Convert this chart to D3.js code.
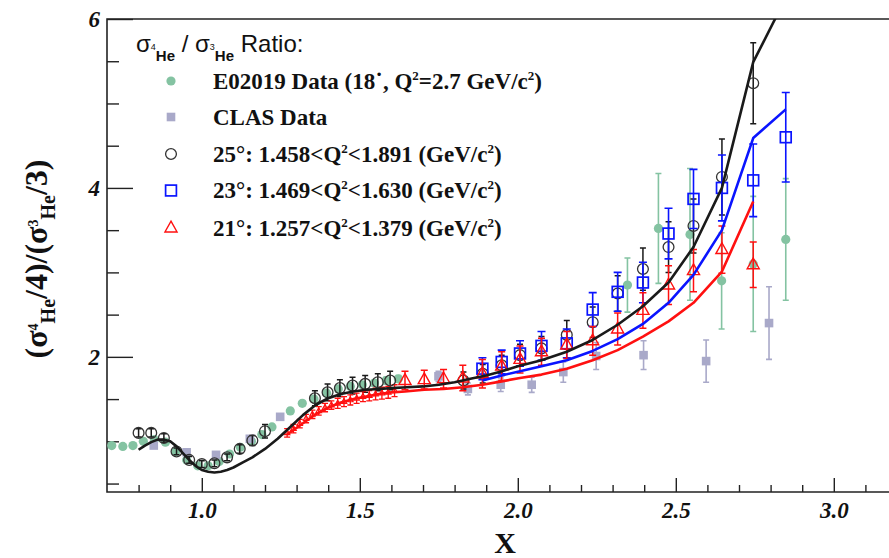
<!DOCTYPE html>
<html><head><meta charset="utf-8">
<script src="https://cdn.jsdelivr.net/npm/d3@7"></script>
<style>html,body{margin:0;padding:0;background:#fff;} svg{display:block;}</style>
</head><body>
<svg id="chart" width="889" height="558"></svg>
<script>
// ---- axis ticks ----
const xMajor = [1.0, 1.5, 2.0, 2.5, 3.0];
const xMinor = [0.8, 0.9, 1.1, 1.2, 1.3, 1.4, 1.6, 1.7, 1.8, 1.9, 2.1, 2.2, 2.3, 2.4, 2.6, 2.7, 2.8, 2.9, 3.1, 3.2];
const yMajor = [2, 4, 6];
const yMinor = [0.5, 1, 1.5, 2.5, 3, 3.5, 4.5, 5, 5.5];

// ---- E02019 data (18 deg) ----
const e02019X = [0.715,0.750,0.782,0.815,0.850,0.885,0.918,0.952,0.987,1.020,1.055,1.088,1.122,1.157,1.190,1.222,1.280,1.318,1.355,1.395,1.432,1.470,1.508,1.546,1.584,1.622,2.347,2.445,2.545,2.645,2.745,2.848];
const e02019Y = [0.95,0.94,0.95,1.00,1.02,0.99,0.88,0.78,0.71,0.71,0.76,0.85,0.93,1.00,1.08,1.17,1.36,1.45,1.50,1.57,1.62,1.65,1.67,1.69,1.72,1.74,2.85,3.52,3.45,2.90,3.10,3.39];
const e02019Err = [0.02,0.02,0.02,0.02,0.02,0.02,0.02,0.02,0.02,0.02,0.02,0.02,0.02,0.02,0.03,0.03,0.03,0.03,0.03,0.03,0.03,0.03,0.03,0.03,0.04,0.04,0.32,0.65,0.78,0.57,0.80,0.72];

// ---- CLAS data ----
const clasX = [0.848,0.952,1.045,1.152,1.248,1.749,1.842,1.946,2.044,2.144,2.248,2.398,2.596,2.795];
const clasY = [0.95,0.87,0.84,1.03,1.29,1.77,1.62,1.67,1.67,1.82,2.01,2.02,1.95,2.40];
const clasErr = [0.02,0.02,0.02,0.03,0.03,0.06,0.07,0.08,0.09,0.12,0.16,0.17,0.25,0.43];

// ---- 25 deg ----
const deg25X = [0.800,0.840,0.880,0.920,0.960,1.000,1.040,1.080,1.120,1.160,1.200,1.358,1.398,1.437,1.477,1.517,1.557,1.596,1.828,1.889,1.949,2.007,2.075,2.155,2.237,2.316,2.396,2.477,2.556,2.646,2.745];
const deg25Y = [1.10,1.10,1.04,0.88,0.78,0.73,0.74,0.81,0.91,1.01,1.12,1.51,1.58,1.63,1.66,1.68,1.70,1.72,1.72,1.80,1.90,2.02,2.10,2.26,2.41,2.75,3.04,3.30,3.55,4.13,5.24];
const deg25Err = [0.05,0.05,0.05,0.04,0.04,0.04,0.04,0.04,0.05,0.06,0.08,0.09,0.10,0.10,0.10,0.10,0.10,0.11,0.10,0.11,0.12,0.13,0.14,0.17,0.18,0.21,0.25,0.30,0.32,0.45,0.48];

// ---- 23 deg ----
const deg23X = [1.888,1.949,2.007,2.075,2.155,2.237,2.316,2.396,2.477,2.556,2.646,2.745,2.848];
const deg23Y = [1.86,1.94,2.04,2.13,2.16,2.56,2.77,2.88,3.46,3.87,4.00,4.09,4.60];
const deg23Err = [0.13,0.14,0.15,0.17,0.17,0.20,0.23,0.24,0.30,0.35,0.39,0.43,0.53];

// ---- 21 deg (coarse bins) ----
const deg21X = [1.643,1.704,1.765,1.826,1.888,1.949,2.007,2.075,2.155,2.237,2.316,2.396,2.477,2.556,2.646,2.745];
const deg21Y = [1.72,1.73,1.74,1.75,1.80,1.89,1.97,2.06,2.14,2.19,2.33,2.55,2.85,3.02,3.27,3.09];
const deg21Err = [0.11,0.11,0.11,0.15,0.17,0.17,0.16,0.16,0.16,0.17,0.19,0.21,0.23,0.25,0.28,0.27];

// ---- 21 deg (fine bins) ----
const deg21FineX = [1.27,1.29,1.31,1.33,1.35,1.37,1.39,1.41,1.43,1.45,1.47,1.49,1.51,1.53,1.55,1.57,1.59,1.61];
const deg21FineY = [1.10,1.15,1.21,1.27,1.32,1.36,1.40,1.43,1.45,1.47,1.49,1.51,1.53,1.54,1.56,1.57,1.58,1.60];
const deg21FineErr = [0.05,0.05,0.05,0.05,0.05,0.05,0.05,0.05,0.06,0.06,0.06,0.06,0.06,0.06,0.07,0.07,0.07,0.07];

// ---- model curves ----
const model25X = [0.80,0.82,0.84,0.86,0.88,0.90,0.92,0.94,0.96,0.98,1.00,1.02,1.04,1.06,1.08,1.10,1.13,1.16,1.20,1.24,1.28,1.32,1.36,1.40,1.44,1.48,1.52,1.56,1.60,1.65,1.70,1.75,1.80,1.85,1.90,1.95,2.00,2.075,2.155,2.237,2.316,2.396,2.477,2.556,2.646,2.745,2.848];
const model25Y = [0.90,0.95,0.99,1.02,1.02,1.00,0.94,0.86,0.78,0.71,0.66,0.64,0.63,0.64,0.66,0.69,0.75,0.81,0.91,1.03,1.17,1.31,1.43,1.51,1.56,1.59,1.61,1.62,1.63,1.64,1.65,1.67,1.70,1.74,1.78,1.83,1.89,1.96,2.06,2.20,2.38,2.60,2.88,3.30,4.00,5.49,6.25];
const model23X = [1.888,1.949,2.007,2.075,2.155,2.237,2.316,2.396,2.477,2.556,2.646,2.745,2.848];
const model23Y = [1.72,1.78,1.83,1.89,1.96,2.07,2.21,2.39,2.64,2.97,3.50,4.59,4.93];
const model21X = [1.27,1.30,1.33,1.36,1.40,1.44,1.48,1.52,1.56,1.60,1.643,1.704,1.765,1.826,1.888,1.949,2.007,2.075,2.155,2.237,2.316,2.396,2.477,2.556,2.646,2.745];
const model21Y = [1.08,1.16,1.24,1.32,1.40,1.46,1.50,1.53,1.56,1.58,1.59,1.61,1.62,1.64,1.67,1.71,1.75,1.79,1.86,1.96,2.08,2.24,2.42,2.64,3.01,3.84];

// ---- colours / fonts ----
const cGreen = "#84c3a2", cGrey = "#a9a9c9", cBlack = "#1a1a1a", cBlue = "#0a14ff", cRed = "#ff1010";
const serif = "'Liberation Serif','Times New Roman',serif";
const sans = "'Liberation Sans',Arial,sans-serif";

const svg = d3.select("#chart");
const L = 107, T = 19, B = 492, R = 889;
const x = d3.scaleLinear().domain([0.7, 3.2]).range([L, 897]);
const y = d3.scaleLinear().domain([0.4, 6]).range([B, T]);

svg.append("defs").append("clipPath").attr("id", "plotClip")
  .append("rect").attr("x", L).attr("y", T).attr("width", R - L).attr("height", B - T);

const zip = (xs, ys, es) => xs.map((v, i) => ({x: v, y: ys[i], e: es ? es[i] : 0}));

// ---- axes ----
function styleAxis(g) {
  g.select(".domain").remove();
  g.selectAll(".tick line").attr("stroke", "#222").attr("stroke-width", 1.4);
  g.selectAll(".tick text").attr("fill", "#111").style("font-family", serif)
    .style("font-weight", "bold").style("font-style", "italic").style("font-size", "23px");
}
svg.append("g").attr("transform", `translate(0,${B})`)
  .call(d3.axisBottom(x).tickValues(xMajor).tickSizeInner(-14).tickSizeOuter(0).tickPadding(10).tickFormat(d3.format(".1f")))
  .call(styleAxis);
svg.append("g").attr("transform", `translate(0,${B})`)
  .call(d3.axisBottom(x).tickValues(xMinor).tickSizeInner(-7).tickSizeOuter(0).tickFormat(""))
  .call(styleAxis);
svg.append("g").attr("transform", `translate(${L},0)`)
  .call(d3.axisLeft(y).tickValues(yMajor).tickSizeInner(-26).tickSizeOuter(0).tickPadding(7).tickFormat(d3.format("d")))
  .call(styleAxis);
svg.append("g").attr("transform", `translate(${L},0)`)
  .call(d3.axisLeft(y).tickValues(yMinor).tickSizeInner(-12).tickSizeOuter(0).tickFormat(""))
  .call(styleAxis);

// frame
svg.append("path").attr("d", `M${R},${T}H${L}V${B}H${R}`)
  .attr("fill", "none").attr("stroke", "#222").attr("stroke-width", 1.6);

// ---- marks ----
const plot = svg.append("g").attr("clip-path", "url(#plotClip)");

function errBars(data, color, cap, width) {
  const g = plot.append("g").attr("stroke", color).attr("stroke-width", width).attr("fill", "none");
  g.selectAll("path").data(data.filter(d => d.e > 0)).join("path")
    .attr("d", d => {
      const px = x(d.x), y0 = y(d.y - d.e), y1 = y(d.y + d.e);
      return `M${px},${y0}V${y1}M${px - cap},${y1}H${px + cap}M${px - cap},${y0}H${px + cap}`;
    });
}
const triPath = s => `M0,${-s * 0.62}L${s * 0.55},${s * 0.36}L${-s * 0.55},${s * 0.36}Z`;

function drawMarker(g, kind, px, py) {
  if (kind === "green") g.append("circle").attr("cx", px).attr("cy", py).attr("r", 4.6).attr("fill", cGreen);
  if (kind === "grey") g.append("rect").attr("x", px - 4.3).attr("y", py - 4.3).attr("width", 8.6).attr("height", 8.6).attr("fill", cGrey);
  if (kind === "circle") g.append("circle").attr("cx", px).attr("cy", py).attr("r", 5.4).attr("fill", "none").attr("stroke", "#333").attr("stroke-width", 1.3);
  if (kind === "square") g.append("rect").attr("x", px - 5.4).attr("y", py - 5.4).attr("width", 10.8).attr("height", 10.8).attr("fill", "none").attr("stroke", cBlue).attr("stroke-width", 1.7);
  if (kind === "tri") g.append("path").attr("transform", `translate(${px},${py})`).attr("d", triPath(11)).attr("fill", "none").attr("stroke", cRed).attr("stroke-width", 1.4);
  if (kind === "triSmall") g.append("path").attr("transform", `translate(${px},${py})`).attr("d", triPath(5)).attr("fill", "none").attr("stroke", cRed).attr("stroke-width", 1.2);
}
function markers(data, kind) {
  const g = plot.append("g");
  data.forEach(d => drawMarker(g, kind, x(d.x), y(d.y)));
}

const green = zip(e02019X, e02019Y, e02019Err);
const clas = zip(clasX, clasY, clasErr);
const d25 = zip(deg25X, deg25Y, deg25Err);
const d23 = zip(deg23X, deg23Y, deg23Err);
const d21 = zip(deg21X, deg21Y, deg21Err);
const d21f = zip(deg21FineX, deg21FineY, deg21FineErr);

errBars(green, cGreen, 3, 1.6); markers(green, "green");
errBars(clas, cGrey, 3, 1.6); markers(clas, "grey");
errBars(d25, cBlack, 3, 1.5);
errBars(d21f, cRed, 3, 1.3); markers(d21f, "triSmall");
markers(d25, "circle");
errBars(d23, cBlue, 4, 1.6); markers(d23, "square");
errBars(d21, cRed, 3.5, 1.5); markers(d21, "tri");

const line = d3.line().x(d => x(d.x)).y(d => y(d.y));
[[model21X, model21Y, cRed], [model23X, model23Y, cBlue], [model25X, model25Y, cBlack]].forEach(([xs, ys, c]) => {
  plot.append("path").datum(zip(xs, ys)).attr("d", line)
    .attr("fill", "none").attr("stroke", c).attr("stroke-width", 2.6).attr("stroke-linejoin", "round");
});

// ---- text helper ----
function richText(parent, segs, attrs) {
  const t = parent.append("text");
  Object.entries(attrs).forEach(([k, v]) => t.attr(k, v));
  segs.forEach(s => {
    const sp = t.append("tspan").text(s.t);
    if (s.size) sp.style("font-size", s.size + "px");
    if (s.dy) sp.attr("dy", s.dy);
    if (s.family) sp.style("font-family", s.family);
    if (s.weight) sp.style("font-weight", s.weight);
  });
  return t;
}

// ---- legend ----
const leg = svg.append("g");
richText(leg, [
  {t: "σ", size: 24}, {t: "4", size: 9, dy: -2}, {t: "He", size: 15, dy: 11, weight: "bold"},
  {t: " / ", size: 24, dy: -9}, {t: "σ", size: 24}, {t: "3", size: 9, dy: -2}, {t: "He", size: 15, dy: 11, weight: "bold"},
  {t: " Ratio:", size: 24, dy: -9}
], {x: 136, y: 52, fill: "#111", "font-family": sans});

const legRows = [
  {kind: "green", yc: 81, segs: [{t: "E02019 Data (18"}, {t: "˙"}, {t: ", Q"}, {t: "2", size: 13, dy: -9}, {t: "=2.7 GeV/c", dy: 9}, {t: "2", size: 13, dy: -9}, {t: ")", dy: 9}]},
  {kind: "grey", yc: 117, segs: [{t: "CLAS Data"}]},
  {kind: "circle", yc: 154, segs: [{t: "25°: 1.458<Q"}, {t: "2", size: 13, dy: -9}, {t: "<1.891 (GeV/c", dy: 9}, {t: "2", size: 13, dy: -9}, {t: ")", dy: 9}]},
  {kind: "square", yc: 190.5, segs: [{t: "23°: 1.469<Q"}, {t: "2", size: 13, dy: -9}, {t: "<1.630 (GeV/c", dy: 9}, {t: "2", size: 13, dy: -9}, {t: ")", dy: 9}]},
  {kind: "tri", yc: 228, segs: [{t: "21°: 1.257<Q"}, {t: "2", size: 13, dy: -9}, {t: "<1.379 (GeV/c", dy: 9}, {t: "2", size: 13, dy: -9}, {t: ")", dy: 9}]}
];
legRows.forEach(r => {
  drawMarker(leg, r.kind, 171, r.yc);
  richText(leg, r.segs, {x: 213, y: r.yc + 7.5, fill: "#111", "font-family": serif, "font-weight": "bold", "font-size": "23px"});
});

// ---- axis titles ----
svg.append("text").attr("x", 505).attr("y", 553).attr("text-anchor", "middle")
  .attr("font-family", serif).attr("font-weight", "bold").attr("font-size", "30px").attr("fill", "#111").text("X");

richText(svg, [
  {t: "(σ"}, {t: "4", size: 14, dy: -9}, {t: "He", size: 20, dy: 17},
  {t: "/4)/(σ", dy: -8}, {t: "3", size: 14, dy: -9}, {t: "He", size: 20, dy: 17},
  {t: "/3)", dy: -8}
], {transform: "translate(47,259) rotate(-90)", "text-anchor": "middle", fill: "#111",
    "font-family": serif, "font-weight": "bold", "font-size": "32px"});
</script></body></html>
